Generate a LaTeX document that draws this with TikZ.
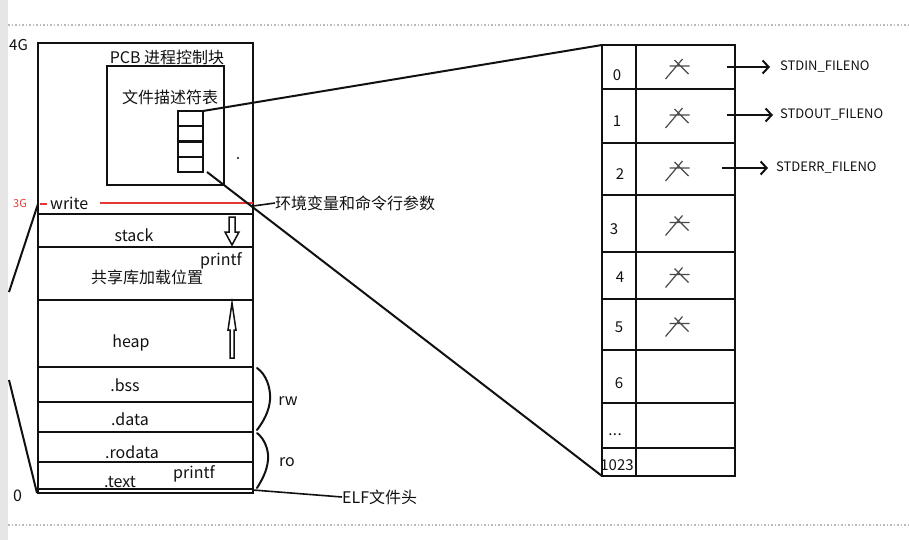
\documentclass[tikz,border=0pt]{standalone}
\usepackage{fontspec}
\setmainfont{Noto Sans CJK SC}
\usetikzlibrary{positioning, arrows.meta, calc}
\definecolor{ink}{HTML}{111111}
\definecolor{redline}{HTML}{E53935}
\definecolor{pencil}{HTML}{4A4A4A}
\definecolor{frame}{HTML}{E6E6E6}
\definecolor{dots}{HTML}{BBBBBB}
\newcommand{\tdots}{.\kern0.5pt.\kern0.5pt.}
\tikzset{
  seg/.style     = {rectangle, draw=ink, line width=2.2pt, minimum width=215,
                    inner sep=0pt, outer sep=0pt, anchor=north west},
  fdcell/.style  = {rectangle, draw=ink, line width=2.2pt, minimum width=25,
                    minimum height=15.25, inner sep=0pt, outer sep=0pt},
  idxcell/.style = {rectangle, draw=ink, line width=2.2pt, minimum width=34,
                    inner sep=0pt, outer sep=0pt, anchor=north west},
  ptrcell/.style = {rectangle, draw=ink, line width=2.2pt, minimum width=99,
                    inner sep=0pt, outer sep=0pt, anchor=north west},
  lbl/.style     = {inner sep=0pt, text=ink, font=\fontsize{16}{18}\selectfont},
  small/.style   = {inner sep=0pt, text=ink, font=\fontsize{13}{15}\selectfont},
  link/.style    = {draw=ink, line width=2pt},
  thinlink/.style= {draw=ink, line width=1.6pt},
  brace/.style   = {draw=ink, line width=2pt, line cap=round},
  hollow/.style  = {draw=ink, line width=1.5pt, line join=miter, fill=white},
  ptrarr/.style  = {draw=ink, line width=2pt,
                    -{Straight Barb[length=6pt,width=13pt,line width=2pt]}},
}

\begin{document}
\begin{tikzpicture}[x=1pt, y=-1pt]
  \useasboundingbox (0,0) rectangle (909,540);

  % window frame of the screenshot
  \fill[frame] (0,0) rectangle (8,540);
  \draw[dots, dotted, line width=1.5pt] (8,25) -- (909,25);
  \draw[dots, dotted, line width=1.5pt] (8,525) -- (909,525);

  % LEFT: process address space
  \foreach \n/\t/\h in {0/43/171, 1/214/33, 2/247/53, 3/300/67, 4/367/35,
                        5/402/30, 6/432/30, 7/462/27, 8/489/4}
    \node[seg, minimum height=\h] (seg\n) at (38,\t) {};

  \node[lbl, font=\fontsize{15}{17}\selectfont, anchor=west] (top) at (9,45) {4G};
  \node[lbl, anchor=west] (zero) at (13,496) {0};

  % PCB
  \node[rectangle, draw=ink, line width=2.2pt, minimum width=117, minimum height=119,
        anchor=north west, inner sep=0pt] (pcb) at (106,65) {};
  \node[lbl] (pcbname) at (167,57) {PCB 进程控制块};
  \node[lbl] (fdname) at (170,97) {文件描述符表};
  \node[fdcell, anchor=north west] (fd1) at (178,111) {};
  \node[fdcell, below=0pt of fd1] (fd2) {};
  \node[fdcell, below=0pt of fd2] (fd3) {};
  \node[fdcell, below=0pt of fd3] (fd4) {};
  \fill[ink] (238,158) circle (1.2);

  % 3G boundary
  \node[small, text=redline, font=\fontsize{11}{13}\selectfont] (kern) at (20,203) {3G};
  \draw[redline, line width=1.6pt] (40,204) -- (47,204);
  \node[lbl, anchor=west] (write) at (50,203) {write};
  \draw[redline, line width=2pt] (100,203) -- (253,203);
  \coordinate (envpt) at (253,206);
  \node[lbl, anchor=west] (env) at (275,203) {环境变量和命令行参数};
  \draw[thinlink] (envpt) -- (env.west);

  \draw[link] (38,204) -- (9,292);
  \draw[link] (9,380) -- (37,493);

  % segments
  \node[lbl] (stack) at (134,235) {stack};
  \draw[hollow] (229,217) -- (235,217) -- (235,232) -- (239,232) -- (232,245)
                -- (225,232) -- (229,232) -- cycle;
  \node[lbl] (printfa) at (221,261) {printf};
  \node[lbl] (shlib) at (147,277) {共享库加载位置};
  \node[lbl] (heap) at (131,343) {heap};
  \draw[hollow] (232,303) -- (236,330) -- (234,330) -- (234,358) -- (230,358)
                -- (230,330) -- (228,330) -- cycle;
  \node[lbl] (bss) at (125,385) {.bss};
  \node[lbl] (data) at (130,419) {.data};
  \node[lbl] (rodata) at (132,452) {.rodata};
  \node[lbl] (text) at (120,482) {.text};
  \node[lbl] (printfb) at (194,474) {printf};

  \draw[brace] (257,368) .. controls (266,374) and (271,388) .. (270,400)
               .. controls (269,412) and (263,422) .. (257,430);
  \draw[brace] (257,433) .. controls (265,439) and (269,451) .. (268,460)
               .. controls (267,471) and (262,480) .. (257,488);
  \node[lbl] (rw) at (288,401) {rw};
  \node[lbl] (ro) at (287,462) {ro};

  \coordinate (elfpt) at (253,490);
  \node[lbl, anchor=west] (elf) at (342,497) {ELF文件头};
  \draw[thinlink] (elfpt) -- (elf.west);

  % RIGHT: file descriptor table
  \foreach \n/\t/\h/\lab/\lx/\ly in {0/45/44/0/617/75, 1/89/54/1/617/121,
      2/143/52/2/620/174, 3/195/57/3/614/229, 4/252/47/4/620/277,
      5/299/51/5/619/327, 6/350/53/6/619/383, 7/403/45/\tdots/615/435,
      8/448/28/1023/617/465} {
    \node[idxcell, minimum height=\h] (idx\n) at (602,\t) {};
    \node[ptrcell, minimum height=\h] (ptr\n) at (636,\t) {};
    \node[lbl, font=\fontsize{15}{17}\selectfont] (num\n) at (\lx,\ly) {\lab};
  }
  \foreach \n in {0,1,2,3,4,5}
    \draw[pencil, line width=1.2pt, shift={($(ptr\n.center)+(-7,-1)$)}]
      (-9,0) -- (11,0) (-13,13) -- (4,-7) (-4,-6) -- (10,8);

  \draw[link] (fd1.north east) -- (idx0.north west);
  \draw[link] ([xshift=4]fd4.south east) -- (idx8.south west);

  \node[small, anchor=west] (stdin) at (780,67) {STDIN\_FILENO};
  \node[small, anchor=west] (stdout) at (780,115) {STDOUT\_FILENO};
  \node[small, anchor=west] (stderr) at (776,168) {STDERR\_FILENO};
  \draw[ptrarr] ([xshift=-8]ptr0.east |- stdin) -- ([xshift=-10]stdin.west);
  \draw[ptrarr] ([xshift=-8]ptr1.east |- stdout) -- ([xshift=-7]stdout.west);
  \draw[ptrarr] ([xshift=-13]ptr2.east |- stderr) -- ([xshift=-8]stderr.west);

\end{tikzpicture}
\end{document}
